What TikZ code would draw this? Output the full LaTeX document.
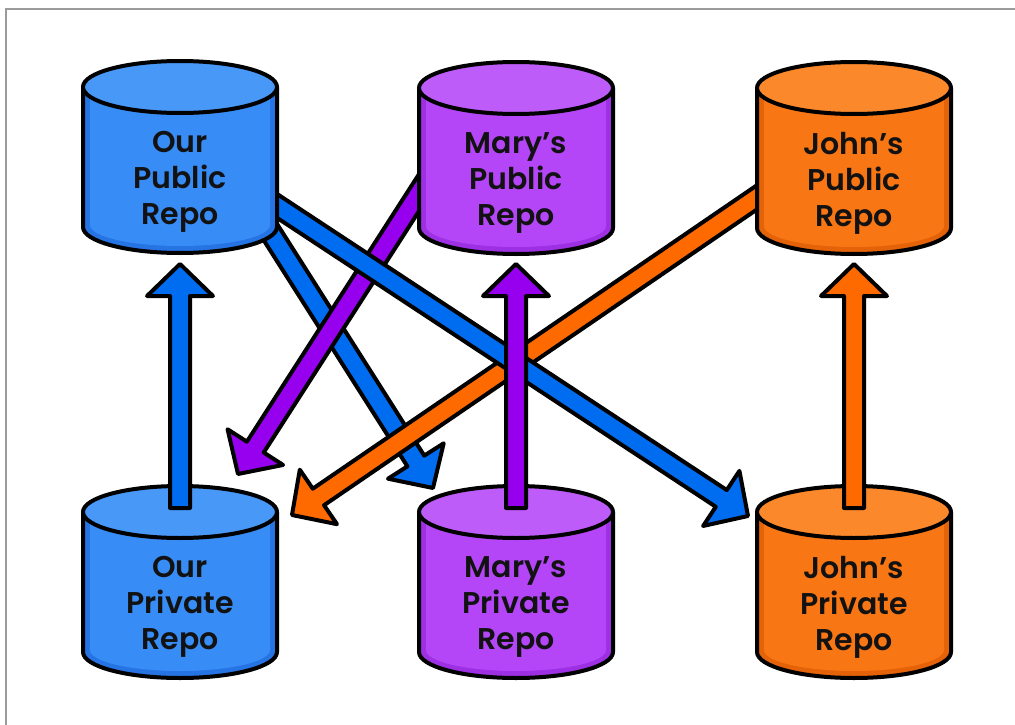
\documentclass[tikz,border=0pt]{standalone}
\usepackage{fontspec}
\newfontfamily\repofont{Poppins SemiBold}
\usetikzlibrary{calc}
\definecolor{ourtop}{RGB}{72,152,248}
\definecolor{our}{RGB}{56,140,246}
\definecolor{ourdark}{RGB}{38,116,228}
\definecolor{ourarrow}{RGB}{0,108,240}
\definecolor{marytop}{RGB}{190,92,250}
\definecolor{mary}{RGB}{180,70,248}
\definecolor{marydark}{RGB}{158,48,228}
\definecolor{maryarrow}{RGB}{150,0,238}
\definecolor{johntop}{RGB}{251,136,42}
\definecolor{john}{RGB}{249,118,20}
\definecolor{johndark}{RGB}{228,98,8}
\definecolor{johnarrow}{RGB}{255,106,0}
\definecolor{framegray}{RGB}{155,155,155}
\tikzset{
  repoline/.style={draw=black,line width=4pt,line join=round},
  repotext/.style={font=\repofont\fontsize{30}{36}\selectfont,align=center,text=black!93},
}
% fat outlined arrow: #1 tail, #2 tip, #3 colour
\newcommand\fatarrow[3]{%
  \path (#2) coordinate (tip) ($(#2)!32pt!(#1)$) coordinate (hb);
  \filldraw[fill=#3,repoline] ($(#1)!10pt!90:(tip)$) -- ($(hb)!10pt!90:(tip)$)
    -- ($(hb)!33pt!90:(tip)$) -- (tip) -- ($(hb)!33pt!-90:(tip)$)
    -- ($(hb)!10pt!-90:(tip)$) -- ($(#1)!10pt!-90:(tip)$) -- cycle;
}
\begin{document}
\begin{tikzpicture}[x=1pt,y=-1pt]
	\useasboundingbox (0,0) rectangle (1015,725);
	\fill[white] (0,0) rectangle (1015,725);
	\draw[framegray,line width=2.5pt] (6,725) -- (6,9) -- (1015,9);
	% arrow ends
	\path
	(250,200) coordinate (ourpub-a) (433,488) coordinate (marypriv-a)
	(262,196) coordinate (ourpub-b) (748,516) coordinate (johnpriv-a)
	(440,160) coordinate (marypub-a) (238,474) coordinate (ourpriv-a)
	(775,185) coordinate (johnpub-a) (292,515) coordinate (ourpriv-b)
	;
	\fatarrow{ourpub-a}{marypriv-a}{ourarrow}
	\fatarrow{johnpub-a}{ourpriv-b}{johnarrow}
	\fatarrow{marypub-a}{ourpriv-a}{maryarrow}
	\fatarrow{ourpub-b}{johnpriv-a}{ourarrow}
	% repos
	\foreach \n/\x/\y/\c/\t in {ourpub/180/87/our/{Our\\Public\\Repo},
		marypub/516/88/mary/{Mary’s\\Public\\Repo},
		johnpub/854/88/john/{John’s\\Public\\Repo},
		ourpriv/180/512/our/{Our\\Private\\Repo},
		marypriv/516/512/mary/{Mary’s\\Private\\Repo},
		johnpriv/854/512/john/{John’s\\Private\\Repo}}
	{
		\fill[\c dark] (\x-97,\y) -- (\x-97,\y+140) arc[start angle=180,end angle=0,x radius=97,y radius=26] -- (\x+97,\y) -- cycle;
		\fill[\c] (\x-90,\y) -- (\x-90,\y+138) arc[start angle=180,end angle=0,x radius=90,y radius=21] -- (\x+90,\y) -- cycle;
		\draw[repoline] (\x-97,\y) -- (\x-97,\y+140) arc[start angle=180,end angle=0,x radius=97,y radius=26] -- (\x+97,\y);
		\filldraw[fill=\c top,repoline] (\x,\y) ellipse[x radius=97,y radius=26];
		\node[repotext] (\n) at (\x,\y+95) {\t};
	}
	% push arrows
	\foreach \x/\c in {180/our,516/mary,854/john}{
		\path (\x,508) coordinate (up-a) (\x,264) coordinate (up-b);
		\fatarrow{up-a}{up-b}{\c arrow}
	}
\end{tikzpicture}
\end{document}
